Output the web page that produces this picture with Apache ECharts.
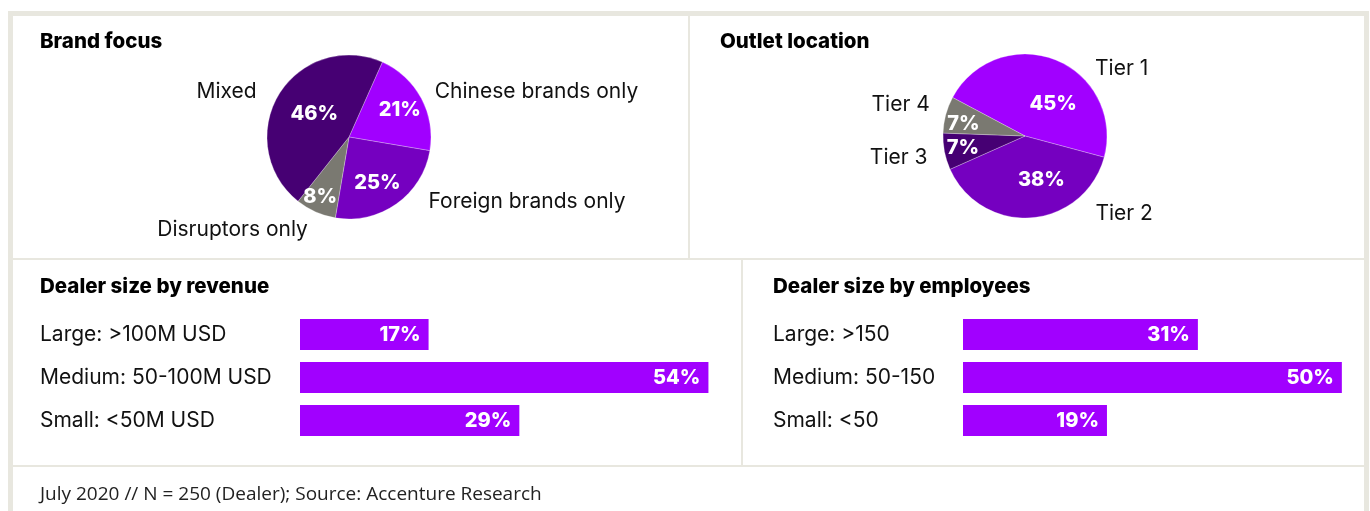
<!DOCTYPE html>
<html>
<head>
<meta charset="utf-8">
<script src="https://cdn.jsdelivr.net/npm/echarts@6/dist/echarts.min.js"></script>
<style>
  html, body { margin: 0; padding: 0; background: #fff; }
  #chart { width: 1370px; height: 511px; }
</style>
</head>
<body>
<div id="chart"></div>
<script>
// values
const brandNames = ['Chinese brands only', 'Foreign brands only', 'Disruptors only', 'Mixed'];
const brandValues = [21, 25, 8, 46];
const outletNames = ['Tier 1', 'Tier 2', 'Tier 3', 'Tier 4'];
const outletValues = [45, 38, 7, 7];
const revenueCats = ['Large: >100M USD', 'Medium: 50-100M USD', 'Small: <50M USD'];
const revenueValues = [17, 54, 29];
const employeeCats = ['Large: >150', 'Medium: 50-150', 'Small: <50'];
const employeeValues = [31, 50, 19];

const PURPLE = '#a100ff';
const brandColors = ['#a100ff', '#7500c0', '#7a7971', '#460073'];
const outletColors = ['#a100ff', '#7500c0', '#460073', '#7a7971'];
const LINE = '#e8e7df';
const FONT = 'Inter, Roboto, sans-serif';

const chart = echarts.init(document.getElementById('chart'));

const toData = (names, values, colors) =>
  names.map((n, i) => ({ name: n, value: values[i], itemStyle: { color: colors[i] } }));

// nudge labels away from the default pie label spots
const nudge = (offsets) => (p) => {
  const o = offsets[p.dataIndex] || [0, 0];
  return { dx: o[0], dy: o[1] };
};

// slice series with % inside, plus a transparent twin carrying the outside names
const pieSlices = (names, values, colors, center, startAngle, offsets) => ({
  type: 'pie',
  center,
  radius: 82,
  startAngle,
  silent: true,
  itemStyle: { borderColor: 'rgba(255,255,255,0.45)', borderWidth: 0.6 },
  label: {
    position: 'inside',
    formatter: '{c}%',
    color: '#fff',
    fontFamily: FONT,
    fontWeight: 800,
    fontSize: 20
  },
  labelLine: { show: false },
  labelLayout: nudge(offsets),
  data: toData(names, values, colors)
});

const pieNames = (names, values, center, startAngle, lines, offsets) => ({
  type: 'pie',
  center,
  radius: 82,
  startAngle,
  silent: true,
  itemStyle: { color: 'transparent' },
  label: {
    position: 'outside',
    color: '#111',
    fontFamily: FONT,
    fontSize: 21,
    formatter: '{b}'
  },
  labelLayout: nudge(offsets),
  data: names.map((n, i) => ({
    name: n,
    value: values[i],
    labelLine: { show: false, length: lines[i][0], length2: lines[i][1] }
  }))
});

const barSeries = (values, idx) => ({
  type: 'bar',
  xAxisIndex: idx,
  yAxisIndex: idx,
  data: values,
  barWidth: 31,
  silent: true,
  itemStyle: { color: PURPLE },
  label: {
    show: true,
    position: 'insideRight',
    distance: 8,
    formatter: '{c}%',
    color: '#fff',
    fontFamily: FONT,
    fontWeight: 800,
    fontSize: 20
  }
});

const catAxis = (cats, idx, margin) => ({
  type: 'category',
  gridIndex: idx,
  inverse: true,
  data: cats,
  axisLine: { show: false },
  axisTick: { show: false },
  axisLabel: {
    align: 'left',
    margin,
    color: '#111',
    fontFamily: FONT,
    fontSize: 21
  }
});

// both bar panels share the same px-per-percent scale
const valAxis = (idx, max) => ({
  type: 'value',
  gridIndex: idx,
  min: 0,
  max,
  show: false
});

const titleStyle = { fontFamily: FONT, fontWeight: 800, fontSize: 20.5, color: '#000' };

const rect = (x, y, w, h) => ({
  type: 'rect',
  shape: { x, y, width: w, height: h },
  style: { fill: LINE },
  silent: true
});

chart.setOption({
  animation: false,
  backgroundColor: '#fff',
  title: [
    { text: 'Brand focus', left: 40, top: 31, padding: 0, textStyle: titleStyle },
    { text: 'Outlet location', left: 720, top: 31, padding: 0, textStyle: titleStyle },
    { text: 'Dealer size by revenue', left: 40, top: 276, padding: 0, textStyle: titleStyle },
    { text: 'Dealer size by employees', left: 773, top: 276, padding: 0, textStyle: titleStyle },
    {
      text: 'July 2020 // N = 250 (Dealer); Source: Accenture Research',
      left: 40, top: 485, padding: 0,
      textStyle: { fontFamily: '"Open Sans", sans-serif', fontWeight: 400, fontSize: 19, color: '#222' }
    }
  ],
  graphic: [
    rect(8, 11, 1361, 5),
    rect(8, 11, 5, 500),
    rect(1364, 11, 5, 500),
    rect(688, 16, 2, 243),
    rect(13, 258, 1351, 2),
    rect(741, 260, 2, 206),
    rect(13, 465, 1351, 2)
  ],
  grid: [
    { left: 300, top: 313, width: 416, height: 129 },
    { left: 963, top: 313, width: 394, height: 129 }
  ],
  xAxis: [valAxis(0, 55), valAxis(1, 52)],
  yAxis: [catAxis(revenueCats, 0, 260), catAxis(employeeCats, 1, 190)],
  series: [
    pieSlices(brandNames, brandValues, brandColors, [349, 137], 66,
      [[12, -6], [3, 10], [-11, 20], [3, 0]]),
    pieNames(brandNames, brandValues, [349, 137], 66,
      [[13, 0], [0, 27], [19, 0], [5, 13]], [[-3, 0], [0, -2], [5, 0], [0, 0]]),
    pieSlices(outletNames, outletValues, outletColors, [1025, 136], 152,
      [[12, 9], [13, 0], [-19, 4], [-19, -1]]),
    pieNames(outletNames, outletValues, [1025, 136], 152,
      [[0, 35], [0, 59], [0, 12], [0, 11]], [[0, 9], [0, -4], [0, 6], [0, -10]]),
    barSeries(revenueValues, 0),
    barSeries(employeeValues, 1)
  ]
});

window.addEventListener('resize', () => chart.resize());
</script>
</body>
</html>
